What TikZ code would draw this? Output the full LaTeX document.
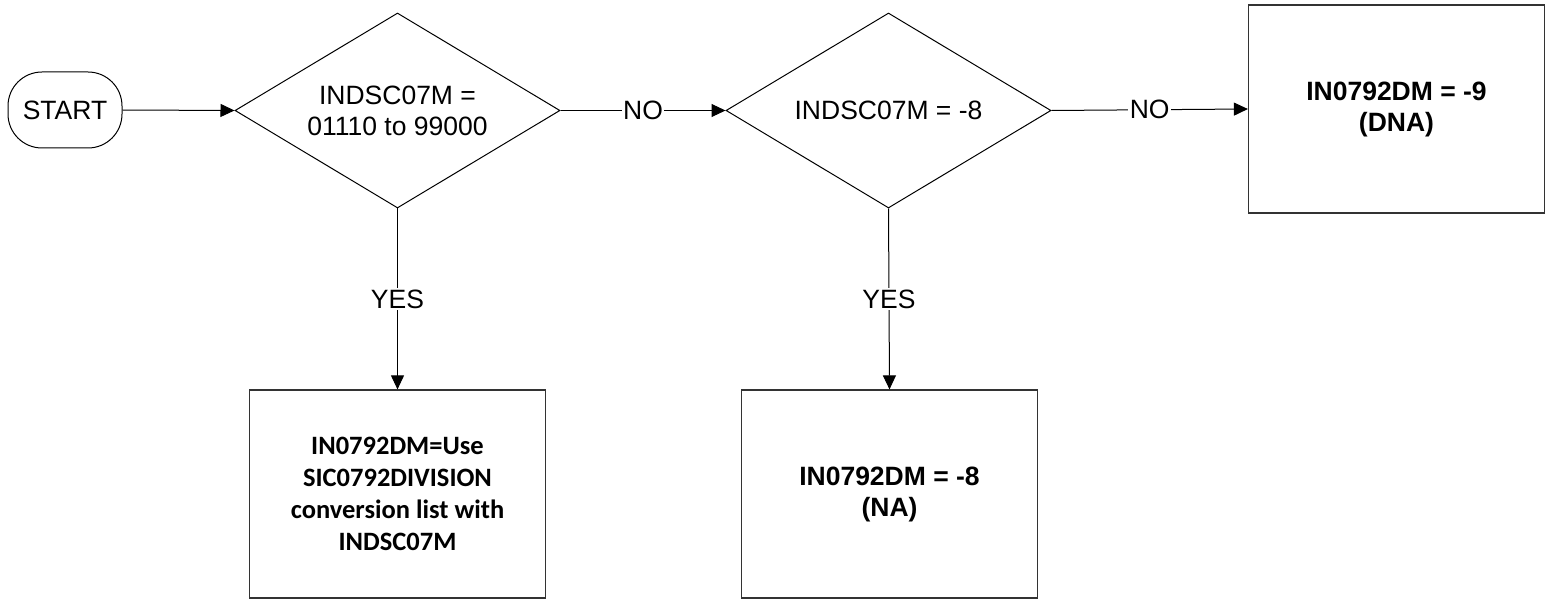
\documentclass[tikz,border=0pt]{standalone}
\usepackage{fontspec}
\setmainfont{Liberation Sans}
\newfontfamily\calibrifont{Carlito}
\usetikzlibrary{shapes.geometric,arrows.meta}
\begin{document}
\begin{tikzpicture}[x=1pt,y=-1pt,
  base/.style={font=\fontsize{26.5}{31}\selectfont},
  startbox/.style={base,draw=black,line width=1pt,rounded corners=34pt,minimum width=114pt,minimum height=76pt,inner sep=0pt},
  decision/.style={base,draw=black,line width=1pt,diamond,aspect=1.67,minimum width=325pt,minimum height=195pt,inner sep=0pt,align=center},
  procbox/.style={draw=black!80,line width=1.2pt,minimum width=296pt,minimum height=208pt,inner sep=0pt,align=center},
  conn/.style={draw=black,line width=1pt,-{Triangle[length=14pt,width=13pt]}},
  lbl/.style={base,fill=white,inner sep=1.5pt}
]
\useasboundingbox (0,0) rectangle (1547,604);
\node[startbox] (start) at (65,110) {START};
\node[decision] (d1) at (397.5,110.5) {INDSC07M =\\01110 to 99000};
\node[decision] (d2) at (888.5,110.5) {INDSC07M = -8};
\node[procbox,font=\calibrifont\bfseries\fontsize{26.5}{32}\selectfont] (b1) at (397.5,494) {IN0792DM=Use\\SIC0792DIVISION\\conversion list with\\INDSC07M};
\node[procbox,font=\bfseries\fontsize{26.5}{31}\selectfont] (b2) at (889.5,494) {IN0792DM = -8\\(NA)};
\node[procbox,font=\bfseries\fontsize{26.5}{31}\selectfont] (b3) at (1396.5,109) {IN0792DM = -9\\(DNA)};
\draw[conn] (start.east) -- (d1.west);
\draw[conn] (d1.east) -- node[lbl] {NO} (d2.west);
\draw[conn] (d2.east) -- node[lbl] {NO} (b3.west);
\draw[conn] (d1.south) -- node[lbl] {YES} (b1.north);
\draw[conn] (d2.south) -- node[lbl] {YES} (b2.north);
\end{tikzpicture}
\end{document}
